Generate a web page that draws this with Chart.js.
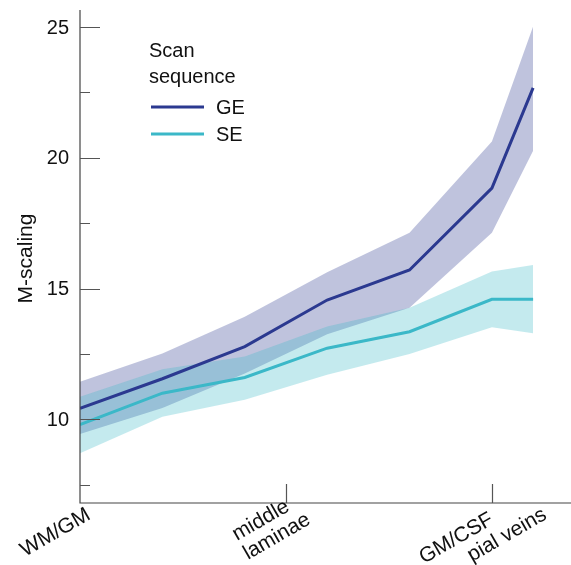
<!DOCTYPE html>
<html>
<head>
<meta charset="utf-8">
<script src="https://cdn.jsdelivr.net/npm/chart.js@4.4.1/dist/chart.umd.min.js"></script>
<style>
  html, body { margin: 0; padding: 0; background: #fff; }
  #wrap { width: 571px; height: 565px; position: relative; }
</style>
</head>
<body>
<div id="wrap"><canvas id="mscaling"></canvas></div>
<script>
// Cortical depth positions (0 = WM/GM boundary, 5 = GM/CSF boundary, 5.5 = pial veins)
const depth = [0, 1, 2, 3, 4, 5, 5.5];

// Gradient-echo: mean and confidence band
const geMean  = [10.42, 11.55, 12.78, 14.56, 15.71, 18.84, 22.67];
const geUpper = [11.44, 12.52, 13.92, 15.62, 17.13, 20.62, 25.02];
const geLower = [9.44, 10.43, 11.75, 13.25, 14.27, 17.13, 20.27];

// Spin-echo: mean and confidence band
const seMean  = [9.80, 11.00, 11.60, 12.72, 13.35, 14.59, 14.59];
const seUpper = [10.86, 11.91, 12.40, 13.55, 14.27, 15.65, 15.90];
const seLower = [8.70, 10.10, 10.75, 11.70, 12.50, 13.52, 13.29];

// Axis ticks and labels
const yMajorTicks = [10, 15, 20, 25];
const yMinorTicks = [7.5, 12.5, 17.5, 22.5];
const xTickMarks = [2.5, 5];
const xLabels = [
  { value: 0,   lines: ['WM/GM'] },
  { value: 2.5, lines: ['middle', 'laminae'] },
  { value: 5,   lines: ['GM/CSF'] },
  { value: 5.5, lines: ['pial veins'] }
];

const GE_COLOR = '#2b3990';
const SE_COLOR = '#3bb8c8';
const GE_FILL = 'rgba(43, 57, 144, 0.3)';
const SE_FILL = 'rgba(59, 184, 200, 0.3)';

const FONT = '"Liberation Sans", Arial, sans-serif';

function pts(arr) {
  return depth.map((x, i) => ({ x: x, y: arr[i] }));
}

// where each x label's first baseline starts, relative to its position on the axis
const labelOffsets = {
  0:   { dx: -55, dy: 54 },
  2.5: { dx: -49, dy: 38 },
  5:   { dx: -68, dy: 61 },
  5.5: { dx: -61, dy: 59 }
};

const axesPlugin = {
  id: 'axesPlugin',
  afterDraw(chart) {
    const { ctx, chartArea, scales } = chart;
    const { left, right, top, bottom } = chartArea;
    const xs = scales.x, ys = scales.y;

    ctx.save();
    // axis lines
    ctx.strokeStyle = '#444';
    ctx.lineWidth = 1.2;
    ctx.beginPath();
    ctx.moveTo(left, top);
    ctx.lineTo(left, bottom);
    ctx.lineTo(right, bottom);
    ctx.stroke();

    // inward tick marks
    ctx.strokeStyle = '#555';
    ctx.lineWidth = 1.2;
    ctx.beginPath();
    yMajorTicks.forEach(v => {
      const y = Math.round(ys.getPixelForValue(v)) + 0.5;
      ctx.moveTo(left, y);
      ctx.lineTo(left + 20, y);
    });
    yMinorTicks.forEach(v => {
      const y = Math.round(ys.getPixelForValue(v)) + 0.5;
      ctx.moveTo(left, y);
      ctx.lineTo(left + 10, y);
    });
    xTickMarks.forEach(v => {
      const x = Math.round(xs.getPixelForValue(v)) + 0.5;
      ctx.moveTo(x, bottom);
      ctx.lineTo(x, bottom - 19);
    });
    ctx.stroke();

    // y tick labels
    ctx.fillStyle = '#111';
    ctx.font = '20px ' + FONT;
    ctx.textAlign = 'right';
    ctx.textBaseline = 'middle';
    yMajorTicks.forEach(v => {
      ctx.fillText(String(v), left - 11, ys.getPixelForValue(v) + 1);
    });

    // y axis title
    ctx.save();
    ctx.translate(26, (top + bottom) / 2 + 2);
    ctx.rotate(-Math.PI / 2);
    ctx.font = '21px ' + FONT;
    ctx.textAlign = 'center';
    ctx.textBaseline = 'middle';
    ctx.fillText('M-scaling', 0, 0);
    ctx.restore();

    // rotated x labels, multi-line blocks left aligned
    ctx.font = '21px ' + FONT;
    ctx.textAlign = 'left';
    ctx.textBaseline = 'alphabetic';
    xLabels.forEach(lab => {
      const off = labelOffsets[lab.value];
      ctx.save();
      ctx.translate(xs.getPixelForValue(lab.value) + off.dx, bottom + off.dy);
      ctx.rotate(-Math.PI / 6);
      lab.lines.forEach((t, i) => ctx.fillText(t, 0, i * 22));
      ctx.restore();
    });

    // legend
    ctx.font = '20px ' + FONT;
    ctx.textAlign = 'left';
    ctx.fillText('Scan', 149, 57);
    ctx.fillText('sequence', 149, 83);
    const entries = [
      { label: 'GE', color: GE_COLOR, y: 107 },
      { label: 'SE', color: SE_COLOR, y: 134 }
    ];
    entries.forEach(e => {
      ctx.strokeStyle = e.color;
      ctx.lineWidth = 3;
      ctx.beginPath();
      ctx.moveTo(151, e.y);
      ctx.lineTo(204, e.y);
      ctx.stroke();
      ctx.textBaseline = 'middle';
      ctx.fillText(e.label, 216, e.y + 1);
    });
    ctx.restore();
  }
};

const bandStyle = {
  borderWidth: 0,
  borderColor: 'rgba(0,0,0,0)',
  pointRadius: 0
};

new Chart(document.getElementById('mscaling'), {
  type: 'line',
  data: {
    datasets: [
      { label: 'GE', data: pts(geMean), borderColor: GE_COLOR, borderWidth: 3, pointRadius: 0, fill: false, order: 0 },
      { label: 'SE', data: pts(seMean), borderColor: SE_COLOR, borderWidth: 3, pointRadius: 0, fill: false, order: 0 },
      { ...bandStyle, label: 'SE upper', data: pts(seUpper), backgroundColor: SE_FILL, fill: '+1', order: 1 },
      { ...bandStyle, label: 'SE lower', data: pts(seLower), backgroundColor: SE_FILL, fill: false, order: 1 },
      { ...bandStyle, label: 'GE upper', data: pts(geUpper), backgroundColor: GE_FILL, fill: '+1', order: 2 },
      { ...bandStyle, label: 'GE lower', data: pts(geLower), backgroundColor: GE_FILL, fill: false, order: 2 }
    ]
  },
  options: {
    responsive: true,
    maintainAspectRatio: false,
    animation: false,
    layout: { padding: { left: 80, top: 10, right: 0, bottom: 62 } },
    scales: {
      x: { type: 'linear', min: 0, max: 5.96, display: false },
      y: { type: 'linear', min: 6.8, max: 25.65, display: false }
    },
    plugins: {
      legend: { display: false },
      tooltip: { enabled: false }
    },
    elements: { line: { tension: 0 } }
  },
  plugins: [axesPlugin]
});
</script>
</body>
</html>
